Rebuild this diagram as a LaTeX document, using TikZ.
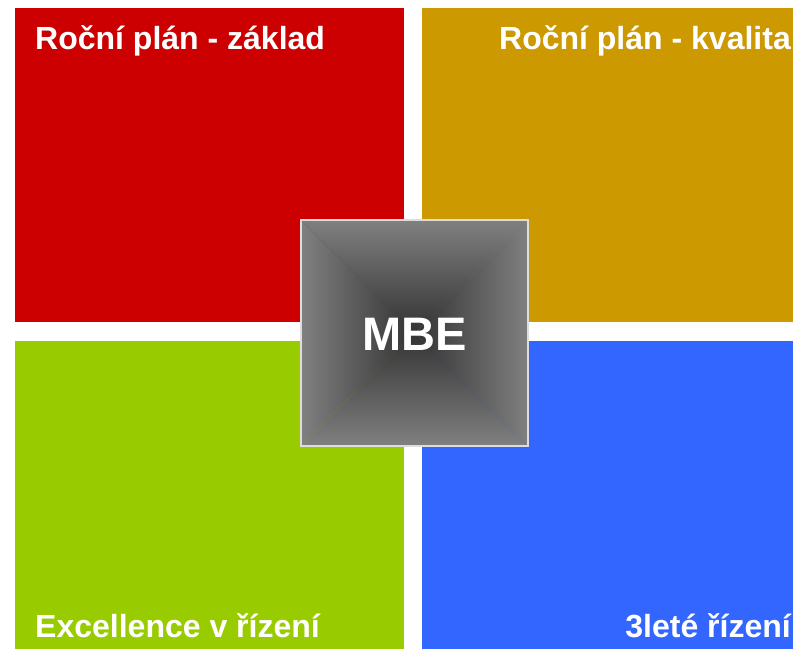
\documentclass[tikz,border=0pt]{standalone}
\usepackage{fontspec}
\setmainfont{Liberation Sans}
\definecolor{qred}{HTML}{CC0000}
\definecolor{qgold}{HTML}{CC9900}
\definecolor{qgreen}{HTML}{99CC00}
\definecolor{qblue}{HTML}{3366FF}
\definecolor{mgray}{HTML}{808080}
\definecolor{mmid}{HTML}{707070}
\definecolor{mdark}{HTML}{333333}
\definecolor{mborder}{HTML}{DDDDDD}
\tikzset{
  quad/.style={rectangle, draw=none, inner sep=0pt, anchor=north west},
  qlabel/.style={inner sep=0pt, text=white, font=\bfseries\fontsize{32}{38}\selectfont},
  mbelabel/.style={inner sep=0pt, text=white, font=\bfseries\fontsize{47}{56}\selectfont}
}
\begin{document}
\begin{tikzpicture}[x=1pt,y=-1pt]
\useasboundingbox (0,0) rectangle (793,649);
\node[quad, fill=qred, minimum width=389pt, minimum height=314pt] (red) at (15,8) {};
\node[quad, fill=qgold, minimum width=371pt, minimum height=314pt] (gold) at (422,8) {};
\node[quad, fill=qgreen, minimum width=389pt, minimum height=308pt] (green) at (15,341) {};
\node[quad, fill=qblue, minimum width=371pt, minimum height=308pt] (blue) at (422,341) {};
% centre square with pyramid shading
\begin{scope}
\clip (301,220) -- (528,220) -- (414.5,333) -- cycle;
\shade[top color=mgray, middle color=mmid, bottom color=mdark] (301,220) rectangle (528,333);
\end{scope}
\begin{scope}
\clip (301,446) -- (528,446) -- (414.5,333) -- cycle;
\shade[top color=mdark, middle color=mmid, bottom color=mgray] (301,333) rectangle (528,446);
\end{scope}
\begin{scope}
\clip (301,220) -- (301,446) -- (414.5,333) -- cycle;
\shade[left color=mgray, middle color=mmid, right color=mdark] (301,220) rectangle (414.5,446);
\end{scope}
\begin{scope}
\clip (528,220) -- (528,446) -- (414.5,333) -- cycle;
\shade[left color=mdark, middle color=mmid, right color=mgray] (414.5,220) rectangle (528,446);
\end{scope}
\node[rectangle, draw=mborder, line width=2pt, minimum width=227pt, minimum height=226pt, inner sep=0pt] (mbe) at (414.5,333) {};
\node[mbelabel, anchor=base] (mbetext) at (414.5,350) {MBE};
\node[qlabel, anchor=base west] (t1) at (35,49) {Roční plán - základ};
\node[qlabel, anchor=base east] (t2) at (791,49) {Roční plán - kvalita};
\node[qlabel, anchor=base west] (t3) at (35,637) {Excellence v řízení};
\node[qlabel, anchor=base east] (t4) at (791,637) {3leté řízení};
\end{tikzpicture}
\end{document}
